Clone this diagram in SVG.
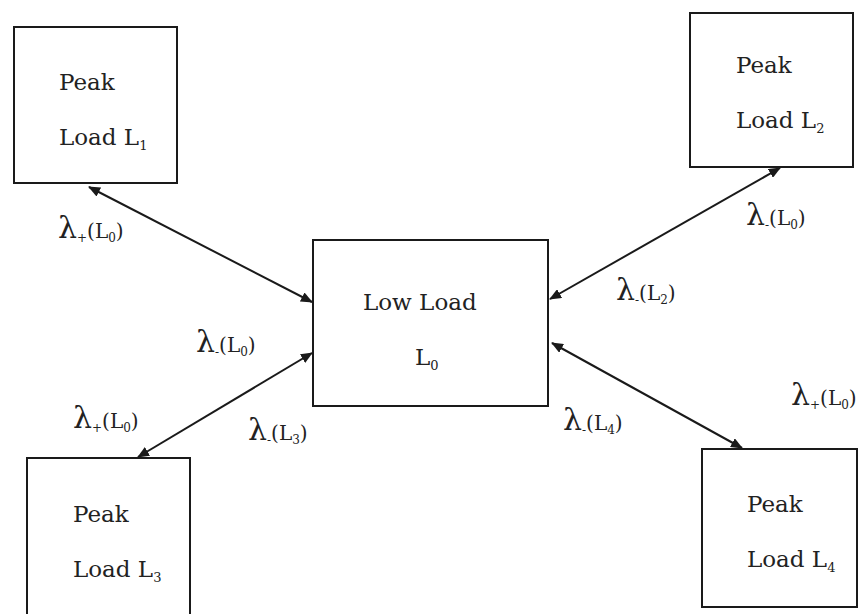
<svg xmlns="http://www.w3.org/2000/svg" width="860" height="614" viewBox="0 0 860 614">
<style>
.box{fill:none;stroke:#1a1a1a;stroke-width:2}
.t{font-family:"DejaVu Serif","Liberation Serif",serif;font-size:23px;fill:#222}
.sub{font-size:13px}
.lbl{font-family:"DejaVu Serif","Liberation Serif",serif;font-size:20px;fill:#222}
.lam{font-size:30px}
.ls{font-size:12px}
.con{stroke:#1a1a1a;stroke-width:2;fill:none;marker-start:url(#ah);marker-end:url(#ah)}
</style>
<defs>
<marker id="ah" viewBox="0 0 12 10" refX="11" refY="5" markerWidth="12" markerHeight="10" markerUnits="userSpaceOnUse" orient="auto-start-reverse">
<path d="M0,0 L12,5 L0,10 z" fill="#1a1a1a"/>
</marker>
</defs>
<rect width="860" height="614" fill="#fff"/>
<g id="connectors">
<line class="con" x1="89" y1="187" x2="312" y2="302"/>
<line class="con" x1="780" y1="168" x2="550" y2="299"/>
<line class="con" x1="138" y1="457" x2="312" y2="353"/>
<line class="con" x1="552" y1="343" x2="742" y2="448"/>
</g>
<g id="L1">
<rect class="box" x="14" y="27" width="163" height="156"/>
<text class="t" x="59" y="90">Peak</text>
<text class="t" x="59" y="145">Load L<tspan class="sub" dy="5">1</tspan></text>
</g>
<g id="L2">
<rect class="box" x="690" y="13" width="163" height="154"/>
<text class="t" x="736" y="73">Peak</text>
<text class="t" x="736" y="128">Load L<tspan class="sub" dy="5">2</tspan></text>
</g>
<g id="L0">
<rect class="box" x="313" y="240" width="235" height="166"/>
<text class="t" x="363" y="310">Low Load</text>
<text class="t" x="415" y="365">L<tspan class="sub" dy="5">0</tspan></text>
</g>
<g id="L3">
<rect class="box" x="27" y="458" width="163" height="160"/>
<text class="t" x="73" y="522">Peak</text>
<text class="t" x="73" y="577">Load L<tspan class="sub" dy="5">3</tspan></text>
</g>
<g id="L4">
<rect class="box" x="702" y="449" width="155" height="158"/>
<text class="t" x="747" y="512">Peak</text>
<text class="t" x="747" y="567">Load L<tspan class="sub" dy="5">4</tspan></text>
</g>
<g id="labels">
<text class="lbl" x="58" y="238"><tspan class="lam">λ</tspan><tspan class="ls" dy="4">+</tspan><tspan dy="-4">(L</tspan><tspan class="ls" dy="4">0</tspan><tspan dy="-4">)</tspan></text>
<text class="lbl" x="746" y="225"><tspan class="lam">λ</tspan><tspan class="ls" dy="4">-</tspan><tspan dy="-4">(L</tspan><tspan class="ls" dy="4">0</tspan><tspan dy="-4">)</tspan></text>
<text class="lbl" x="616" y="300"><tspan class="lam">λ</tspan><tspan class="ls" dy="4">-</tspan><tspan dy="-4">(L</tspan><tspan class="ls" dy="4">2</tspan><tspan dy="-4">)</tspan></text>
<text class="lbl" x="196" y="352"><tspan class="lam">λ</tspan><tspan class="ls" dy="4">-</tspan><tspan dy="-4">(L</tspan><tspan class="ls" dy="4">0</tspan><tspan dy="-4">)</tspan></text>
<text class="lbl" x="73" y="428"><tspan class="lam">λ</tspan><tspan class="ls" dy="4">+</tspan><tspan dy="-4">(L</tspan><tspan class="ls" dy="4">0</tspan><tspan dy="-4">)</tspan></text>
<text class="lbl" x="248" y="440"><tspan class="lam">λ</tspan><tspan class="ls" dy="4">-</tspan><tspan dy="-4">(L</tspan><tspan class="ls" dy="4">3</tspan><tspan dy="-4">)</tspan></text>
<text class="lbl" x="563" y="430"><tspan class="lam">λ</tspan><tspan class="ls" dy="4">-</tspan><tspan dy="-4">(L</tspan><tspan class="ls" dy="4">4</tspan><tspan dy="-4">)</tspan></text>
<text class="lbl" x="791" y="405"><tspan class="lam">λ</tspan><tspan class="ls" dy="4">+</tspan><tspan dy="-4">(L</tspan><tspan class="ls" dy="4">0</tspan><tspan dy="-4">)</tspan></text>
</g>
</svg>
